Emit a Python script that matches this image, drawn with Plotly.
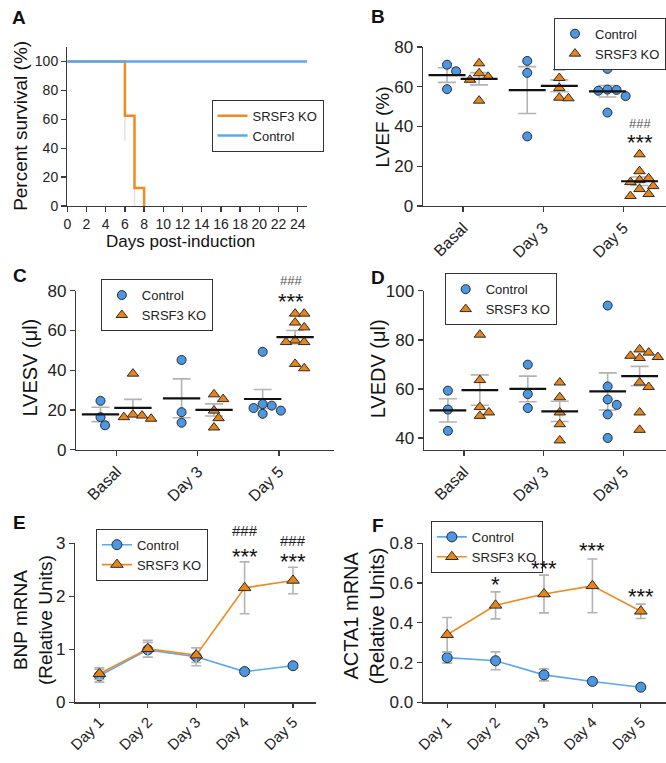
import numpy as np
import plotly.graph_objects as go

W, H = 666, 763
FONT = "Liberation Sans, Arial, Helvetica, sans-serif"

# ---------------- DATA ----------------
# A: Kaplan-Meier survival
surv_ko_days = [0, 6, 7, 8]
surv_ko_pct = [100, 62.5, 12.5, 0]
surv_ctrl_days = [0, 25]
surv_ctrl_pct = [100, 100]
surv_err_days = [6, 7]
surv_err_lo = [45, 0]
surv_err_hi = [80, 50]

# B-D: echo parameters, individual animals
groups = ["Basal", "Day 3", "Day 5"]
lvef_ctrl = [[71.1, 67.8, 58.8], [73.0, 67.0, 35.0],
             [69.0, 58.6, 58.4, 58.0, 55.3, 47.0]]
lvef_ko = [[71.8, 66.8, 65.0, 63.5, 53.0], [69.8, 64.4, 59.4, 54.5, 54.2],
           [26.0, 17.5, 14.0, 13.0, 12.0, 10.0, 8.5, 6.0, 5.0]]
lvesv_ctrl = [[24.6, 16.4, 12.3], [45.2, 18.9, 13.6],
              [49.3, 23.0, 22.2, 21.0, 19.7, 18.1]]
lvesv_ko = [[38.3, 17.7, 17.2, 16.4, 15.6], [27.9, 25.5, 19.7, 15.9, 11.2],
            [68.5, 68.5, 64.0, 61.6, 55.0, 54.2, 54.2, 43.2, 41.0]]
lvedv_ctrl = [[59.3, 51.6, 42.9], [69.9, 57.9, 52.2],
              [94.0, 61.0, 55.7, 53.5, 49.6, 40.0]]
lvedv_ko = [[82.1, 63.6, 52.6, 50.4, 49.0], [62.6, 56.6, 50.4, 45.6, 39.0],
            [76.1, 74.8, 73.5, 73.0, 72.6, 62.6, 60.8, 50.4, 43.3]]

# E-F: mRNA time course (mean, SEM)
days = ["Day 1", "Day 2", "Day 3", "Day 4", "Day 5"]
bnp_ctrl = [0.50, 0.99, 0.86, 0.58, 0.69]
bnp_ctrl_err = [0.12, 0.14, 0.17, 0.04, 0.04]
bnp_ko = [0.54, 1.01, 0.89, 2.16, 2.30]
bnp_ko_err = [0.11, 0.16, 0.14, 0.49, 0.25]
acta_ctrl = [0.225, 0.209, 0.138, 0.105, 0.076]
acta_ctrl_err = [0.028, 0.045, 0.030, 0.010, 0.006]
acta_ko = [0.34, 0.488, 0.545, 0.586, 0.458]
acta_ko_err = [0.087, 0.068, 0.095, 0.135, 0.036]

# significance labels: (panel, category index, value level, text)
sig_marks = [
    ("B", 2.2, 41.7, "###"), ("B", 2.2, 34.4, "***"),
    ("C", 2.15, 85.4, "###"), ("C", 2.15, 77.0, "***"),
    ("E", 3, 3.25, "###"), ("E", 3, 2.84, "***"),
    ("E", 4, 3.06, "###"), ("E", 4, 2.75, "***"),
    ("F", 1, 0.62, "*"), ("F", 2, 0.70, "***"),
    ("F", 3, 0.79, "***"), ("F", 4, 0.557, "***"),
]

# ---------------- STYLE / GEOMETRY ----------------
BLUE = "#4a97e6"
ORANGE = "#ea8416"
BLUE_LINE = "#5aa8f2"
ORANGE_LINE = "#f08a1e"
EDGE = "#2b2b2b"
GREY = "#b3b3b3"
AXC = "#3a3a3a"

# panel: (x-domain px, x range, y-domain px (bottom, top), y range)
GEOM = {
    "A": ((60, 303), (0, 25), (202, 39), (0, 110)),
    "B": ((420, 666), (-0.5, 2.53), (202, 39), (0, 80)),
    "C": ((69, 330), (-0.5, 2.68), (452, 289), (0, 80)),
    "D": ((421, 666), (-0.5, 2.53), (452, 289), (35.2, 100)),
    "E": ((68, 312), (-0.5, 4.48), (711, 548), (0, 3)),
    "F": ((420, 666), (-0.5, 4.52), (711, 548), (0, 0.8)),
}
AXID = {"A": "", "B": "2", "C": "3", "D": "4", "E": "5", "F": "6"}


def px(x):
    return x / W


def py(y):
    return 1 - y / H


def data_to_paper(panel, xv, yv):
    (x0, x1), (r0, r1), (yb, yt), (s0, s1) = GEOM[panel]
    xp = px(x0) + (xv - r0) / (r1 - r0) * (px(x1) - px(x0))
    yp = py(yb) + (yv - s0) / (s1 - s0) * (py(yt) - py(yb))
    return xp, yp


def axis(dom, rng, anchor, size=17, **kw):
    d = dict(domain=dom, range=rng, anchor=anchor, showline=True, linecolor=AXC,
             linewidth=1.3, ticks="outside", ticklen=5, tickwidth=1.3, tickcolor=AXC,
             showgrid=False, zeroline=False, fixedrange=True,
             tickfont=dict(size=size, color="#222", family=FONT))
    d.update(kw)
    return d


def swarm(vals, ypx, d=8.6, step=4.6):
    order = sorted(range(len(vals)), key=lambda i: -vals[i])
    placed = []
    offs = [0.0] * len(vals)
    cands = [0.0]
    for j in range(1, 12):
        cands += [j * step, -j * step]
    for i in order:
        yv = vals[i] * ypx
        xo = 0.0
        for c in cands:
            if all((c - a) ** 2 + (yv - b) ** 2 >= d * d for a, b in placed):
                xo = c
                break
        placed.append((xo, yv))
        offs[i] = xo
    return offs


fig = go.Figure()

# ---------------- PANEL A ----------------
fig.add_trace(go.Scatter(x=[surv_err_days[0], surv_err_days[0], None,
                            surv_err_days[1], surv_err_days[1]],
                         y=[surv_err_lo[0], surv_err_hi[0], None,
                            surv_err_lo[1], surv_err_hi[1]],
                         mode="lines", line=dict(color="#e2e2e2", width=1.5),
                         showlegend=False, hoverinfo="skip", xaxis="x", yaxis="y"))
fig.add_trace(go.Scatter(x=surv_ko_days, y=surv_ko_pct, mode="lines", line_shape="hv",
                         line=dict(color=ORANGE_LINE, width=2.5), name="SRSF3 KO",
                         xaxis="x", yaxis="y", legend="legend", cliponaxis=False))
fig.add_trace(go.Scatter(x=surv_ctrl_days, y=surv_ctrl_pct, mode="lines",
                         line=dict(color=BLUE_LINE, width=2.5), name="Control",
                         xaxis="x", yaxis="y", legend="legend", cliponaxis=False))

# ---------------- PANELS B-D ----------------
dot_panels = [("B", lvef_ctrl, lvef_ko, "legend2"),
              ("C", lvesv_ctrl, lvesv_ko, "legend3"),
              ("D", lvedv_ctrl, lvedv_ko, "legend4")]
for panel, ctrl, ko, leg in dot_panels:
    (x0, x1), (r0, r1), (yb, yt), (s0, s1) = GEOM[panel]
    xpx = (x1 - x0) / (r1 - r0)
    ypx = (yb - yt) / (s1 - s0)
    xa, ya = "x" + AXID[panel], "y" + AXID[panel]
    for series, side, color, sym, name in [(ctrl, -0.2, BLUE, "circle", "Control"),
                                           (ko, 0.2, ORANGE, "triangle-up", "SRSF3 KO")]:
        xs, ys = [], []
        for gi, vals in enumerate(series):
            offs = swarm(vals, ypx)
            c = gi + side
            m = float(np.mean(vals))
            sem = float(np.std(vals, ddof=1) / np.sqrt(len(vals)))
            fig.add_trace(go.Scatter(x=[c], y=[m], mode="markers",
                                     marker=dict(size=1, opacity=0),
                                     error_y=dict(type="data", array=[sem], color=GREY,
                                                  thickness=1.6, width=9),
                                     showlegend=False, hoverinfo="skip",
                                     xaxis=xa, yaxis=ya))
            xs += [c + o / xpx for o in offs]
            ys += list(vals)
        fig.add_trace(go.Scatter(x=xs, y=ys, mode="markers", name=name,
                                 marker=dict(symbol=sym, size=9 if sym == "circle" else 10,
                                             color=color, line=dict(color=EDGE, width=1)),
                                 xaxis=xa, yaxis=ya, legend=leg, cliponaxis=False))
    for series, side in [(ctrl, -0.2), (ko, 0.2)]:
        for gi, vals in enumerate(series):
            c = gi + side
            m = float(np.mean(vals))
            fig.add_trace(go.Scatter(x=[c - 0.23, c + 0.23], y=[m, m], mode="lines",
                                     line=dict(color="#111", width=2.2),
                                     showlegend=False, hoverinfo="skip",
                                     xaxis=xa, yaxis=ya))

# ---------------- PANELS E-F ----------------
for panel, c_vals, c_err, k_vals, k_err, leg in [
        ("E", bnp_ctrl, bnp_ctrl_err, bnp_ko, bnp_ko_err, "legend5"),
        ("F", acta_ctrl, acta_ctrl_err, acta_ko, acta_ko_err, "legend6")]:
    xa, ya = "x" + AXID[panel], "y" + AXID[panel]
    xi = list(range(len(days)))
    fig.add_trace(go.Scatter(x=xi, y=c_vals, mode="lines+markers", name="Control",
                             line=dict(color=BLUE_LINE, width=1.6),
                             marker=dict(symbol="circle", size=10, color=BLUE,
                                         line=dict(color=EDGE, width=1)),
                             error_y=dict(type="data", array=c_err, color=GREY,
                                          thickness=1.6, width=5),
                             xaxis=xa, yaxis=ya, legend=leg, cliponaxis=False))
    fig.add_trace(go.Scatter(x=xi, y=k_vals, mode="lines+markers", name="SRSF3 KO",
                             line=dict(color=ORANGE_LINE, width=1.6),
                             marker=dict(symbol="triangle-up", size=11, color=ORANGE,
                                         line=dict(color=EDGE, width=1)),
                             error_y=dict(type="data", array=k_err, color=GREY,
                                          thickness=1.6, width=5),
                             xaxis=xa, yaxis=ya, legend=leg, cliponaxis=False))

# ---------------- LAYOUT ----------------
layout = dict(
    width=W, height=H, autosize=False,
    margin=dict(l=0, r=0, t=0, b=0),
    paper_bgcolor="white", plot_bgcolor="white",
    font=dict(family=FONT, color="#222"),
    showlegend=True,
)


def dom(panel):
    (x0, x1), rx, (yb, yt), ry = GEOM[panel]
    return [px(x0), px(x1)], list(rx), [py(yb), py(yt)], list(ry)


xd, xr, yd, yr = dom("A")
layout["xaxis"] = axis(xd, xr, "y", size=14, tick0=0, dtick=2)
layout["yaxis"] = axis(yd, yr, "x", size=14, tickvals=[0, 20, 40, 60, 80, 100])
for panel, yticks in [("B", [0, 20, 40, 60, 80]), ("C", [0, 20, 40, 60, 80]),
                      ("D", [40, 60, 80, 100])]:
    n = AXID[panel]
    xd, xr, yd, yr = dom(panel)
    layout["xaxis" + n] = axis(xd, xr, "y" + n, size=16, tickangle=-45,
                               tickvals=[0, 1, 2], ticktext=groups)
    layout["yaxis" + n] = axis(yd, yr, "x" + n, tickvals=yticks)
xd, xr, yd, yr = dom("E")
layout["xaxis5"] = axis(xd, xr, "y5", size=15, tickangle=-45, ticklen=4,
                        tickvals=list(range(5)), ticktext=days)
layout["yaxis5"] = axis(yd, yr, "x5", tickvals=[0, 1, 2, 3])
xd, xr, yd, yr = dom("F")
layout["xaxis6"] = axis(xd, xr, "y6", size=15, tickangle=-45, ticklen=4,
                        tickvals=list(range(5)), ticktext=days)
layout["yaxis6"] = axis(yd, yr, "x6", tickvals=[0, 0.2, 0.4, 0.6, 0.8], tickformat=".1f")


def legend(x, y, xanchor="left", size=13):
    return dict(x=x, y=y, xanchor=xanchor, yanchor="top", bordercolor="#333",
                borderwidth=1, bgcolor="white", font=dict(size=size, family=FONT, color="#222"),
                tracegroupgap=0, itemwidth=30, itemclick=False, itemdoubleclick=False)


layout["legend"] = legend(px(206), py(93))
layout["legend2"] = legend(1.0, py(9), xanchor="right")
layout["legend3"] = legend(px(94), py(277))
layout["legend4"] = legend(px(442), py(271))
layout["legend5"] = legend(px(89), py(533))
layout["legend6"] = legend(px(428), py(525))

fig.update_layout(**layout)

ann = []


def text(x, y, t, size, angle=0, bold=False, yshift=0, color="#111"):
    ann.append(dict(x=x, y=y, xref="paper", yref="paper",
                    text=("<b>%s</b>" % t) if bold else t,
                    showarrow=False, textangle=angle, xanchor="center", yanchor="middle",
                    yshift=yshift, font=dict(size=size, family=FONT, color=color)))


# panel letters
for letter, (lx, ly) in {"A": (11, 9), "B": (375, 8), "C": (12, 273),
                         "D": (375, 275), "E": (12, 527), "F": (375, 530)}.items():
    text(px(lx), py(ly), letter, 19, bold=True)

# axis titles
text(px(12), py(120), "Percent survival (%)", 19, angle=-90)
text(px(175), py(238), "Days post-induction", 17)
text(px(380), py(121), "LVEF (%)", 19, angle=-90)
text(px(22), py(368), "LVESV (μl)", 20, angle=-90)
text(px(374), py(369), "LVEDV (μl)", 20, angle=-90)
text(px(26), py(627), "BNP mRNA<br>(Relative Units)", 19, angle=-90)
text(px(360), py(622), "ACTA1 mRNA<br>(Relative Units)", 20, angle=-90)

# significance marks
for panel, xv, yv, t in sig_marks:
    xp, yp = data_to_paper(panel, xv, yv)
    if t.startswith("#"):
        big = panel == "E"
        text(xp, yp, t, 15 if big else 13, color="#222" if big else "#555")
    else:
        text(xp, yp, t, 22, yshift=-5)

fig.update_layout(annotations=ann)
fig.write_html("out.html",
               config={"displayModeBar": False, "staticPlot": True},
               post_script="document.body.style.margin='0';document.body.style.overflow='hidden';")
